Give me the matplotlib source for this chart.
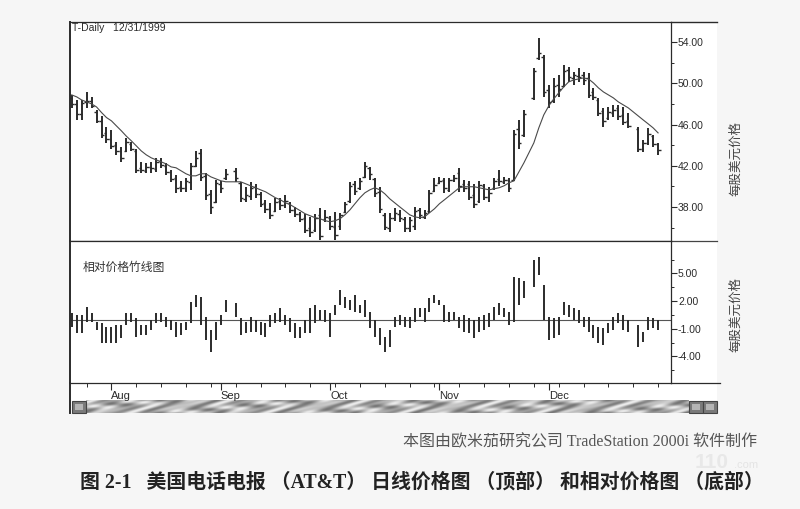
import numpy as np
import matplotlib
matplotlib.use("Agg")
import matplotlib.pyplot as plt
from matplotlib.patches import Rectangle

plt.rcParams['font.family'] = ['Liberation Sans', 'Noto Sans CJK SC', 'DejaVu Sans']
plt.rcParams['axes.unicode_minus'] = False

nan = float('nan')

# AT&T daily bars, one slot per trading day (late Jul .. 31 Dec 1999), nan = no bar on the chart
price_high = [48.9, 48.4, 48.4, 49.2, 48.7, 47.4, 46.8, 45.8, 45.5, 44.3,
              43.8, 44.7, 44.3, 43.6, 42.4, 42.3, 42.4, 42.8, 42.8, 42.3,
              41.6, 41.1, 40.5, 40.8, 42.3, 43.4, 43.6, 41.3, 39.7, 40.6,
              40.5, 41.7, nan, 41.8, 40.4, 39.9, 40.4, 40.2, 39.5, 38.7,
              38.4, 38.9, 38.9, 39.2, 38.5, 38.0, 37.5, 37.3, 37.0, 37.3,
              37.9, 37.7, 37.1, 37.5, 37.4, 38.5, 40.4, 40.5, 40.8, 42.4,
              41.9, 40.8, 39.9, 37.4, 37.4, 37.9, 37.7, 37.0, 37.0, 38.0,
              37.9, 37.7, 39.7, 40.8, 40.9, 40.8, 40.8, 41.1, 41.8, 40.6,
              40.5, 40.2, 40.5, 40.2, 39.9, 40.8, 41.6, 40.9, 40.8, 45.5,
              46.5, 47.4, nan, 51.5, 54.4, 52.8, 49.9, 50.5, 50.8, 51.8,
              51.6, 51.1, 51.5, 51.1, 51.0, 49.6, 48.6, 47.6, 47.7, 47.9,
              47.9, 47.7, 47.1, nan, 45.8, 44.5, 45.7, 45.0, 44.2]
price_low = [47.6, 46.5, 46.5, 47.6, 47.6, 46.2, 44.7, 44.2, 43.6, 43.1,
             42.4, 43.3, 43.4, 41.3, 41.3, 41.3, 41.3, 41.4, 41.8, 41.1,
             40.4, 39.4, 39.5, 39.5, 39.7, 41.9, 40.5, 38.7, 37.3, 38.4,
             39.4, 40.6, nan, 40.4, 38.5, 38.5, 38.7, 38.9, 38.0, 37.4,
             36.8, 37.5, 37.7, 37.9, 37.4, 37.0, 36.5, 35.5, 35.1, 35.6,
             34.8, 36.5, 35.8, 34.8, 35.8, 37.4, 38.4, 39.2, 39.7, 40.8,
             40.6, 39.0, 37.4, 35.8, 35.6, 36.6, 36.5, 35.6, 35.6, 35.8,
             36.8, 36.8, 37.4, 39.5, 40.2, 39.4, 39.5, 40.4, 39.5, 39.5,
             38.7, 37.9, 38.4, 38.7, 38.5, 39.7, 40.0, 40.2, 39.5, 40.5,
             43.6, 44.8, nan, 48.4, 52.3, 48.7, 47.6, 48.1, 48.7, 49.7,
             50.1, 49.9, 50.1, 49.9, 48.6, 48.4, 46.8, 45.8, 46.5, 46.7,
             46.5, 46.0, 45.7, nan, 43.3, 43.3, 44.0, 43.8, 43.1]
price_open = [48.6, 48.0, 47.0, 48.2, 48.3, 47.2, 46.4, 45.2, 44.6, 44.0,
              43.4, 43.4, 44.1, 43.4, 41.8, 41.5, 41.9, 41.7, 42.5, 42.0,
              41.4, 40.8, 39.9, 39.8, 40.4, 42.0, 43.2, 41.0, 39.3, 38.5,
              40.2, 40.8, nan, 41.5, 40.3, 38.8, 39.1, 39.9, 39.3, 38.4,
              37.8, 37.6, 38.6, 38.2, 38.4, 37.7, 37.3, 36.9, 36.0, 35.8,
              37.2, 36.8, 36.9, 36.1, 36.2, 37.5, 38.6, 40.2, 39.8, 40.9,
              41.8, 40.7, 39.5, 37.2, 36.0, 36.9, 37.3, 36.8, 36.0, 36.2,
              37.7, 37.0, 37.6, 39.6, 40.3, 40.6, 39.7, 40.6, 41.3, 40.2,
              40.2, 39.2, 38.6, 40.0, 39.0, 39.8, 40.7, 40.4, 40.6, 40.6,
              45.6, 45.0, nan, 48.6, 52.5, 52.6, 49.4, 48.3, 49.9, 49.8,
              51.3, 50.5, 50.7, 50.8, 50.5, 49.2, 48.4, 47.3, 46.6, 47.1,
              47.6, 46.9, 46.4, nan, 45.6, 43.6, 44.2, 44.9, 44.1]
price_close = [48.0, 47.0, 48.1, 48.3, 47.8, 46.4, 45.0, 44.6, 43.9, 43.4,
               42.8, 44.3, 43.6, 41.6, 41.6, 41.9, 41.8, 42.4, 42.1, 41.4,
               40.7, 39.8, 39.8, 40.5, 42.0, 42.8, 40.9, 39.2, 38.0, 40.3,
               39.8, 41.2, nan, 40.8, 38.9, 39.2, 39.8, 39.3, 38.3, 37.8,
               37.2, 38.5, 38.2, 38.6, 37.7, 37.3, 36.8, 35.8, 35.6, 36.9,
               35.2, 37.0, 36.2, 35.3, 37.2, 38.3, 40.0, 39.6, 40.5, 42.0,
               41.2, 39.4, 37.8, 36.1, 36.9, 37.4, 36.9, 36.0, 36.7, 37.6,
               37.2, 37.4, 39.4, 40.1, 40.5, 39.8, 40.6, 40.8, 40.0, 39.8,
               39.0, 38.3, 40.1, 39.0, 39.4, 40.5, 40.5, 40.6, 39.8, 45.1,
               44.2, 47.0, nan, 51.2, 53.0, 49.2, 48.2, 49.8, 49.5, 51.2,
               50.6, 50.8, 50.6, 50.3, 48.9, 48.7, 47.1, 46.4, 47.2, 47.4,
               46.8, 46.3, 45.9, nan, 43.6, 44.2, 45.1, 44.1, 43.5]
avg_line = [48.89, 48.70, 48.40, 48.21, 48.02, 47.72, 47.18, 46.69, 46.37, 45.88,
            45.40, 44.88, 44.43, 43.94, 43.45, 43.07, 42.78, 42.58, 42.39, 42.19,
            41.90, 41.81, 41.52, 41.23, 41.03, 41.03, 41.23, 41.23, 40.93, 40.74,
            40.55, 40.45, 40.45, 40.45, 40.45, 40.26, 40.06, 39.87, 39.67, 39.48,
            39.19, 38.90, 38.70, 38.41, 38.22, 37.93, 37.64, 37.34, 37.15, 36.96,
            36.86, 36.67, 36.57, 36.67, 36.86, 37.25, 37.73, 38.32, 38.90, 39.38,
            39.67, 39.87, 39.67, 39.29, 38.80, 38.41, 38.02, 37.64, 37.25, 37.05,
            36.96, 37.05, 37.44, 37.83, 38.32, 38.70, 39.09, 39.48, 39.87, 39.97,
            39.97, 39.97, 39.87, 39.77, 39.67, 39.77, 39.87, 40.06, 40.35, 40.55,
            41.42, 42.29, 43.26, 44.23, 45.69, 46.95, 47.82, 48.50, 49.08, 49.66,
            50.15, 50.34, 50.44, 50.54, 50.44, 50.05, 49.57, 49.18, 48.89, 48.60,
            48.21, 47.92, 47.63, 47.24, 46.85, 46.46, 46.08, 45.69, 45.20]

# relative price bars (lower panel)
rel_high = [0.7, 0.5, 0.5, 1.4, 0.7, -0.3, -0.4, -0.8, -0.8, -0.6,
            -0.6, 0.7, 0.7, 0.2, -0.6, -0.6, -0.1, 0.7, 0.7, 0.3,
            -0.1, -0.3, -0.4, -0.3, 1.9, 2.7, 2.5, 0.3, -1.1, -0.3,
            0.5, 2.1, nan, 1.8, 0.2, -0.3, 0.3, -0.1, -0.3, -0.4,
            0.5, 0.7, 1.3, 0.5, 0.2, -0.4, -0.8, -0.1, 1.3, 1.6,
            1.0, 1.0, 0.7, 1.6, 3.2, 2.5, 2.1, 2.7, 1.6, 2.1,
            0.8, -0.1, -0.9, -1.9, -1.1, 0.3, 0.5, 0.3, 0.3, 1.3,
            1.3, 1.3, 2.3, 2.7, 2.1, 1.6, 0.8, 0.8, 0.3, 0.5,
            0.2, -0.1, 0.3, 0.5, 0.7, 1.4, 1.8, 1.3, 0.8, 4.6,
            4.5, 4.2, nan, 6.5, 6.8, 3.8, 0.3, 0.2, 0.3, 1.9,
            1.6, 1.3, 1.0, 0.3, 0.3, -0.6, -0.8, -0.9, -0.4, 0.3,
            0.7, 0.5, -0.1, nan, -0.6, -1.4, 0.3, 0.2, -0.1]
rel_low = [-0.8, -1.5, -1.5, -0.3, -0.3, -1.1, -2.6, -2.6, -2.6, -2.5,
           -2.0, -0.6, -0.3, -1.9, -1.7, -1.7, -1.1, -0.4, -0.3, -0.8,
           -1.1, -1.9, -1.7, -1.1, -0.4, 1.4, -0.6, -2.2, -3.5, -2.2,
           -0.6, 0.8, nan, 0.3, -1.7, -1.5, -1.4, -1.4, -1.7, -1.9,
           -0.8, -0.4, -0.3, -0.6, -1.4, -2.0, -2.0, -1.5, -1.5, -0.4,
           0.0, -0.3, -1.9, 0.5, 1.6, 1.3, 1.0, 0.8, 0.7, 0.3,
           -0.9, -1.9, -2.8, -3.5, -3.0, -0.8, -0.6, -0.8, -0.9, -0.3,
           0.3, -0.3, 0.8, 1.8, 1.6, -0.3, -0.3, -0.1, -0.9, -1.4,
           -1.5, -2.0, -1.4, -1.1, -0.8, -0.1, 0.5, 0.3, -0.6, -0.3,
           1.6, 2.3, nan, 3.5, 4.8, -0.1, -2.2, -2.0, -1.7, 0.5,
           0.3, -0.1, -0.4, -0.8, -1.4, -2.0, -2.5, -2.8, -1.5, -1.1,
           -0.4, -1.1, -1.4, nan, -3.0, -2.4, -1.1, -0.9, -1.1]

month_pos = [8, 30, 52, 74, 96]
month_names = ["Aug", "Sep", "Oct", "Nov", "Dec"]
price_ticks = [38, 42, 46, 50, 54]
rel_ticks = [-4, -1, 2, 5]

W, H = 800, 509
INK = '#2b2b2b'

fig = plt.figure(figsize=(8, 5.09), dpi=100, facecolor='#f6f6f6')

# page furniture drawn in pixel coordinates
bg = fig.add_axes([0, 0, 1, 1])
bg.axis('off')
bg.add_patch(Rectangle((70, 21.7), 647, 391.3, facecolor='white', edgecolor='none', zorder=1))
bg.plot([671, 717], [21.7, 21.7], color=INK, lw=1.0, zorder=3)
bg.plot([671, 717], [241, 241], color='#444444', lw=0.9, zorder=3)
bg.plot([671, 720], [383.3, 383.3], color=INK, lw=0.9, zorder=3)
bg.plot([70, 70], [383, 413], color=INK, lw=1.4, zorder=3)

# scroll bar with marbled texture
gx, gy = np.meshgrid(np.arange(603), np.arange(13))
texture = np.sin(gx / 7.0 + 1.8 * np.sin(gy / 2.2 + gx / 23.0)) + 0.5 * np.sin(gx / 3.1 + gy)
bg.imshow(texture, cmap='gray', vmin=-4.5, vmax=2.0, extent=[86, 689, 413, 400],
          aspect='auto', interpolation='bilinear', zorder=2)
for bx in [72, 689, 703]:
    bg.add_patch(Rectangle((bx, 400.5), 14, 12.5, facecolor='#7a7a7a', edgecolor='#444444',
                           lw=0.8, zorder=3))
    bg.add_patch(Rectangle((bx + 3, 403.5), 8, 6.5, facecolor='#b5b5b5', edgecolor='none', zorder=4))
bg.set_xlim(0, W)
bg.set_ylim(H, 0)

xs = np.arange(len(price_high))
xlim = (-0.34, 120.6)


def draw_bars(ax, hi, lo, op=None, cl=None):
    hi = np.asarray(hi, dtype=float)
    lo = np.asarray(lo, dtype=float)
    ok = ~np.isnan(hi)
    ax.vlines(xs[ok], lo[ok], hi[ok], color=INK, lw=1.4)
    if op is not None:
        op = np.asarray(op, dtype=float)
        cl = np.asarray(cl, dtype=float)
        ax.hlines(op[ok], xs[ok] - 0.5, xs[ok], color=INK, lw=1.0)
        ax.hlines(cl[ok], xs[ok], xs[ok] + 0.5, color=INK, lw=1.0)


def style_panel(ax):
    ax.set_facecolor('white')
    ax.set_xlim(*xlim)
    ax.yaxis.tick_right()
    for side in ['top', 'bottom', 'left', 'right']:
        ax.spines[side].set_color(INK)
        ax.spines[side].set_linewidth(0.9)
    ax.spines['left'].set_linewidth(1.4)
    ax.tick_params(axis='y', which='major', direction='out', length=4, width=0.8,
                   labelsize=7.5, pad=1, colors=INK)
    ax.tick_params(axis='y', which='minor', direction='out', length=2.5, width=0.7, colors=INK)


# --- top panel: daily price bars + moving average
ax1 = fig.add_axes([70 / W, 1 - 241 / H, 601 / W, (241 - 21.7) / H])
style_panel(ax1)
ax1.set_ylim(34.7, 56.0)
draw_bars(ax1, price_high, price_low, price_open, price_close)
ax1.plot(xs, avg_line, color='#4a4a4a', lw=0.8)
ax1.set_yticks(price_ticks)
ax1.set_yticklabels([f"{v:.2f}" for v in price_ticks])
ax1.set_yticks(np.arange(36, 55, 4), minor=True)
ax1.set_xticks([])
ax1.text(0.003, 0.992, "T-Daily   12/31/1999", transform=ax1.transAxes,
         ha='left', va='top', fontsize=7.5, color=INK)

# --- bottom panel: relative price bars
ax2 = fig.add_axes([70 / W, 1 - 383.3 / H, 601 / W, (383.3 - 241) / H])
style_panel(ax2)
ax2.set_ylim(-6.93, 8.53)
ax2.axhline(0, color='#555555', lw=0.8)
draw_bars(ax2, rel_high, rel_low)
ax2.set_yticks(rel_ticks)
ax2.set_yticklabels([f"{v:.2f}" for v in rel_ticks])
ax2.set_yticks([-5.5, -2.5, 0.5, 3.5, 6.5], minor=True)
ax2.set_xticks(month_pos)
ax2.set_xticklabels(month_names, ha='left')
ax2.set_xticks(np.arange(3, 119, 5), minor=True)
ax2.tick_params(axis='x', which='major', direction='out', length=5, width=0.8,
                labelsize=8, pad=0.5, colors=INK)
ax2.tick_params(axis='x', which='minor', direction='out', length=3, width=0.7, colors=INK)
ax2.text((83 - 70) / 601, (383.3 - 268) / 142.3, "相对价格竹线图", transform=ax2.transAxes,
         ha='left', va='center', fontsize=8.5, color='#333333')

# axis titles on the right
fig.text(736 / W, 1 - 158 / H, "每股美元价格", rotation=90, ha='center', va='center',
         fontsize=9, color='#444444')
fig.text(736 / W, 1 - 314 / H, "每股美元价格", rotation=90, ha='center', va='center',
         fontsize=9, color='#444444')

# captions under the chart
fig.text(757 / W, 1 - 442 / H, "本图由欧米茄研究公司 TradeStation 2000i 软件制作",
         ha='right', va='center', fontsize=11.5, color='#555555',
         family=['Liberation Serif', 'Noto Sans CJK SC'])
fig.text(712 / W, 1 - 462 / H, "110", ha='center', va='center', fontsize=15,
         weight='bold', color='#e8e8e8')
fig.text(746 / W, 1 - 465 / H, ".com", ha='center', va='center', fontsize=8, color='#e4e4e4')
fig.text(80 / W, 1 - 482 / H,
         "图 2-1   美国电话电报 （AT&T） 日线价格图 （顶部） 和相对价格图 （底部）",
         ha='left', va='center', fontsize=14.3, weight='bold', color='#222222',
         family=['Liberation Serif', 'Noto Sans CJK SC'])

fig.savefig("out.png", dpi=100, facecolor=fig.get_facecolor())
